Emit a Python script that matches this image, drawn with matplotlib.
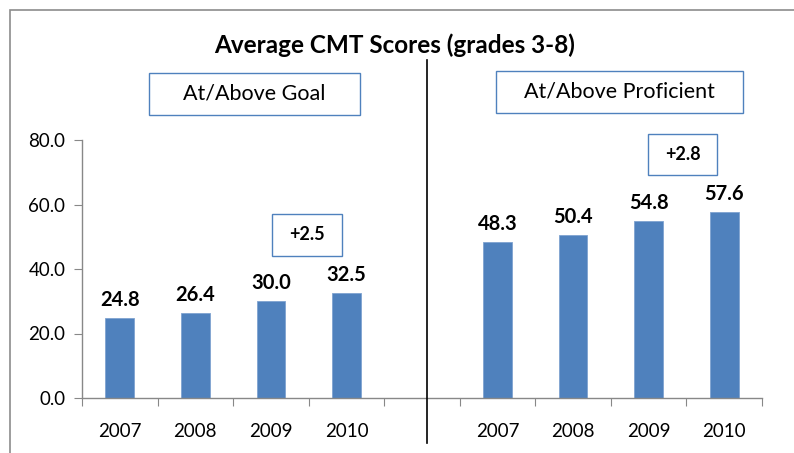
import matplotlib.pyplot as plt
from matplotlib.patches import Rectangle
from matplotlib.lines import Line2D

years = ['2007', '2008', '2009', '2010']
goal = [24.8, 26.4, 30.0, 32.5]
proficient = [48.3, 50.4, 54.8, 57.6]
yticks = [0, 20, 40, 60, 80]

plt.rcParams['font.family'] = ['Lato', 'DejaVu Sans']
W, H = 794, 453
fig = plt.figure(figsize=(W / 100, H / 100), dpi=100)

def fx(px):  # pixel -> figure fraction
    return px / W

def fy(py):
    return 1 - py / H

ax = fig.add_axes([fx(82), fy(398), fx(762) - fx(82), fy(140) - fy(398)])

# left group at 0..3, empty slot at 4, right group at 5..8
xs_left = list(range(4))
xs_right = [i + 5 for i in range(4)]
blue = '#4F81BD'
b1 = ax.bar(xs_left, goal, width=0.38, color=blue, edgecolor='#7FA3D0', linewidth=0.6)
b2 = ax.bar(xs_right, proficient, width=0.38, color=blue, edgecolor='#7FA3D0', linewidth=0.6)

for bars, vals in [(b1, goal), (b2, proficient)]:
    for b, v in zip(bars, vals):
        ax.annotate('%.1f' % v, (b.get_x() + b.get_width() / 2, v),
                    xytext=(0, 6), textcoords='offset points',
                    ha='center', va='bottom', fontsize=14.5, fontweight='bold')

ax.set_xlim(-0.5, 8.5)
ax.set_ylim(0, 80)
ax.set_yticks(yticks)
ax.set_yticklabels(['%.1f' % t for t in yticks], fontsize=13.5)

ax.set_xticks([i - 0.5 for i in range(10)])
ax.set_xticklabels([])
ax.set_xticks(xs_left + xs_right, minor=True)
ax.set_xticklabels(years + years, minor=True, fontsize=13.5)
ax.tick_params(axis='x', which='major', length=6, color='#888888', direction='out')
ax.tick_params(axis='x', which='minor', length=0, pad=18)
ax.tick_params(axis='y', length=6, color='#888888', pad=6)

for s in ['top', 'right']:
    ax.spines[s].set_visible(False)
for s in ['left', 'bottom']:
    ax.spines[s].set_color('#888888')
    ax.spines[s].set_linewidth(1.0)

# outer frame
fig.patches.append(Rectangle((fx(10), fy(470)), fx(800), fy(10) - fy(470),
                             transform=fig.transFigure, fill=False,
                             edgecolor='#8c8c8c', linewidth=1.2))

# divider line
fig.lines.append(Line2D([fx(427), fx(427)], [fy(60), fy(443)],
                        transform=fig.transFigure, color='black', linewidth=1.2))

fig.text(fx(395), fy(45), 'Average CMT Scores (grades 3-8)', ha='center', va='center',
         fontsize=17.5, fontweight='bold')

def box(x0, y0, x1, y1, label, **kw):
    fig.patches.append(Rectangle((fx(x0), fy(y1)), fx(x1) - fx(x0), fy(y0) - fy(y1),
                                 transform=fig.transFigure, fill=False,
                                 edgecolor='#4F81BD', linewidth=1.0))
    fig.text(fx((x0 + x1) / 2), fy((y0 + y1) / 2), label, ha='center', va='center', **kw)

box(149, 73, 360, 115, 'At/Above Goal', fontsize=15.5)
box(496, 71, 743, 113, 'At/Above Proficient', fontsize=15.5)
box(272, 214, 342, 256, '+2.5', fontsize=13, fontweight='bold')
box(648, 134, 717, 175, '+2.8', fontsize=13, fontweight='bold')

fig.savefig('out.png', dpi=100)
